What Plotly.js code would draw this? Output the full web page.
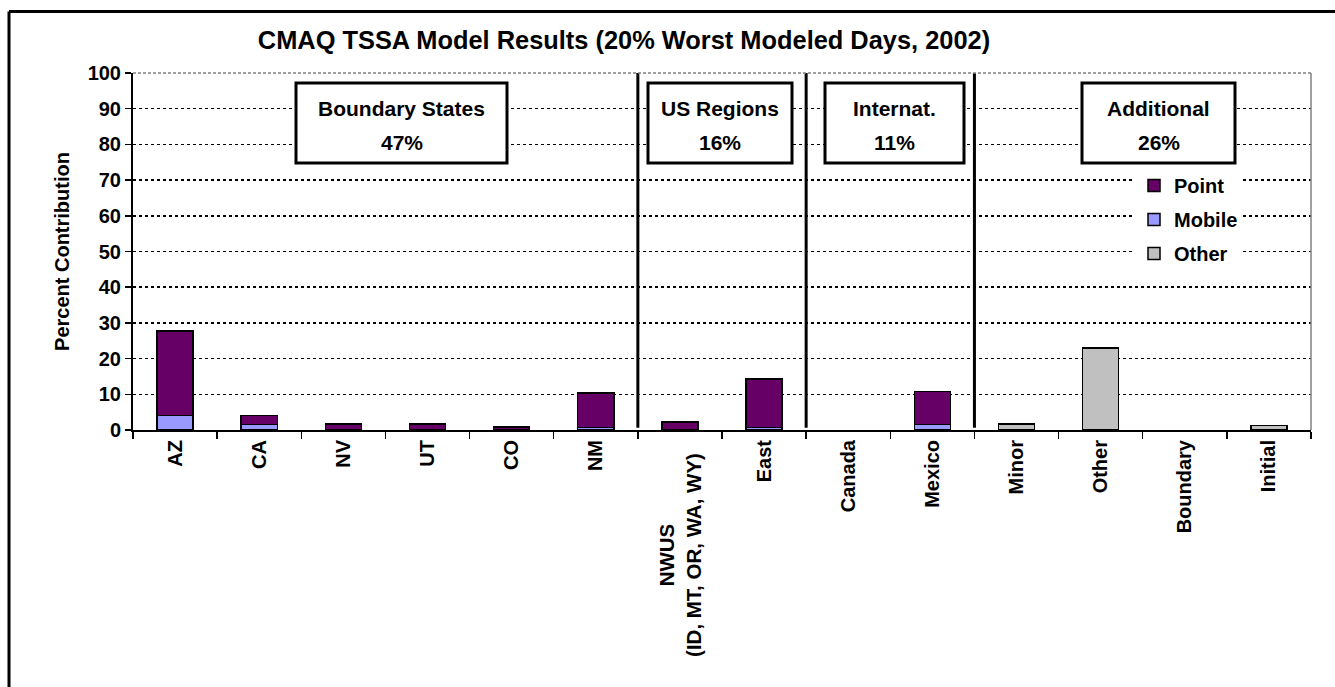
<!DOCTYPE html>
<html>
<head>
<meta charset="utf-8">
<script src="https://cdn.plot.ly/plotly-3.0.1.min.js"></script>
<style>html,body{margin:0;padding:0;background:#fff;}#chart{width:1335px;height:687px;}</style>
</head>
<body>
<div id="chart"></div>
<script>
// ---- data ----
const categories = ['AZ','CA','NV','UT','CO','NM','NWUS (ID, MT, OR, WA, WY)','East','Canada','Mexico','Minor','Other','Boundary','Initial'];
const tickLabels = ['AZ','CA','NV','UT','CO','NM','','East','Canada','Mexico','Minor','Other','Boundary','Initial'];
const mobileValues = [4.0, 1.6, null, null, null, 0.7, 0.2, 0.7, null, 1.5, null, null, null, null];
const pointValues  = [23.8, 2.4, 1.7, 1.7, 0.8, 9.7, 2.0, 13.6, null, 9.3, null, null, null, null];
const otherValues  = [null, null, null, null, null, null, null, null, null, null, 1.7, 23.0, null, 1.2];
const groupNames = ['Boundary States','US Regions','Internat.','Additional'];
const groupShares = ['47%','16%','11%','26%'];
const chartTitle = 'CMAQ TSSA Model Results (20% Worst Modeled Days, 2002)';

// ---- geometry helpers (pixel -> paper) ----
const W = 1335, H = 687;
const L = 133, R = 1311, T = 73, B = 430;
const px = x => (x - L) / (R - L);
const py = y => (B - y) / (B - T);
const FONT = 'Liberation Sans, Arial, Helvetica, sans-serif';

const lineStyle = {color: '#000000', width: 1.5};
const traces = [
  {type: 'bar', name: 'Mobile', x: categories, y: mobileValues, legendrank: 2, legendgroup: 'm',
   marker: {color: '#9999FF', line: lineStyle}},
  {type: 'bar', name: 'Point', x: categories, y: pointValues, legendrank: 1, legendgroup: 'p',
   marker: {color: '#660066', line: lineStyle}},
  {type: 'bar', name: 'Other', x: categories, y: otherValues, legendrank: 3, legendgroup: 'o',
   marker: {color: '#C0C0C0', line: lineStyle}}
];

const boxes = [[296, 507], [648, 792], [825, 964], [1082, 1235]];
const shapes = [];
const annotations = [];
boxes.forEach((b, i) => {
  shapes.push({type: 'rect', xref: 'paper', yref: 'paper', x0: px(b[0]), x1: px(b[1]), y0: py(163), y1: py(83),
    line: {color: '#000', width: 3}, fillcolor: '#fff', layer: 'above'});
  const cx = px((b[0] + b[1]) / 2);
  annotations.push({xref: 'paper', yref: 'paper', x: cx, y: py(108), text: groupNames[i], showarrow: false,
    xanchor: 'center', yanchor: 'middle', font: {family: FONT, size: 21, weight: 'bold', color: '#000'}});
  annotations.push({xref: 'paper', yref: 'paper', x: cx, y: py(142), text: groupShares[i], showarrow: false,
    xanchor: 'center', yanchor: 'middle', font: {family: FONT, size: 21, weight: 'bold', color: '#000'}});
});
// section separators at category boundaries
[5.5, 7.5, 9.5].forEach(xb => {
  shapes.push({type: 'line', xref: 'x', yref: 'y', x0: xb, x1: xb, y0: 0.6, y1: 100,
    line: {color: '#000', width: 3}, layer: 'above'});
});
// right plot border and top border
shapes.push({type: 'line', xref: 'paper', yref: 'paper', x0: 1, x1: 1, y0: 0, y1: 1, line: {color: '#808080', width: 1.5}});
shapes.push({type: 'line', xref: 'paper', yref: 'paper', x0: 0, x1: 1, y0: 1, y1: 1, line: {color: '#808080', width: 1.5, dash: '3px,2px'}});
// outer frame
shapes.push({type: 'line', xref: 'paper', yref: 'paper', x0: px(9), x1: px(1340), y0: py(11.5), y1: py(11.5), line: {color: '#000', width: 3}});
shapes.push({type: 'line', xref: 'paper', yref: 'paper', x0: px(9), x1: px(9), y0: py(11.5), y1: py(690), line: {color: '#000', width: 3}});

// NWUS two-line label, centred lines
annotations.push({xref: 'x', yref: 'paper', x: 6, y: py(451), text: 'NWUS<br>(ID, MT, OR, WA, WY)',
  showarrow: false, textangle: -90, xanchor: 'center', yanchor: 'top', align: 'center',
  font: {family: FONT, size: 20.5, weight: 'bold', color: '#000'}});

const layout = {
  width: W, height: H,
  margin: {l: L, r: W - R, t: T, b: H - B, pad: 0},
  paper_bgcolor: '#fff', plot_bgcolor: '#fff',
  barmode: 'stack', bargap: 0.57,
  showlegend: true,
  font: {family: FONT, color: '#000'},
  title: {text: chartTitle, x: 624 / W, xref: 'container', xanchor: 'center', y: 1 - 40 / H, yref: 'container', yanchor: 'middle',
    font: {family: FONT, size: 25.4, weight: 'bold', color: '#000'}},
  xaxis: {type: 'category', tickmode: 'array', tickvals: categories, ticktext: tickLabels,
    tickson: 'boundaries', ticks: 'outside', ticklen: 7, tickwidth: 1.5, tickcolor: '#000',
    tickangle: -90, tickfont: {family: FONT, size: 20, weight: 'bold', color: '#000'},
    showline: true, linecolor: '#000', linewidth: 2, showgrid: false, automargin: false, fixedrange: true},
  yaxis: {range: [0, 100], dtick: 10, tick0: 0, ticks: 'outside', ticklen: 6, tickwidth: 1.5, tickcolor: '#000',
    tickfont: {family: FONT, size: 20, weight: 'bold', color: '#000'},
    showline: true, linecolor: '#000', linewidth: 2, zeroline: false,
    showgrid: true, gridcolor: '#000', gridwidth: 1.5, griddash: '3px,3px',
    title: {text: 'Percent Contribution', standoff: 13, font: {family: FONT, size: 20, weight: 'bold', color: '#000'}},
    automargin: false, fixedrange: true},
  legend: {x: px(1134), y: py(166), xanchor: 'left', yanchor: 'top', bgcolor: '#fff', borderwidth: 0,
    traceorder: 'grouped', tracegroupgap: 5,
    font: {family: FONT, size: 20, weight: 'bold', color: '#000'}},
  shapes: shapes,
  annotations: annotations
};

Plotly.newPlot('chart', traces, layout, {displayModeBar: false, staticPlot: true});
</script>
</body>
</html>
